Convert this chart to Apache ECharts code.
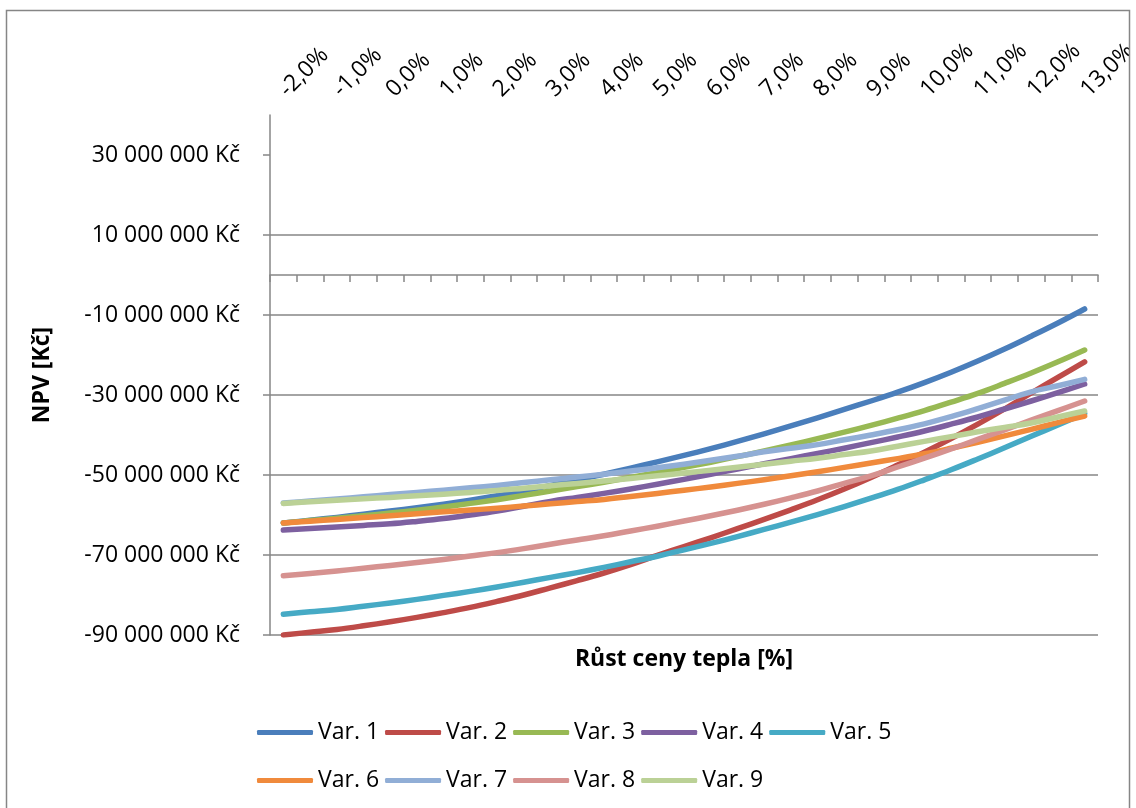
<!DOCTYPE html>
<html>
<head>
<meta charset="utf-8">
<script src="https://cdn.jsdelivr.net/npm/echarts@6/dist/echarts.min.js"></script>
<style>
  html, body { margin: 0; padding: 0; background: #fff; }
  #chart { width: 1136px; height: 808px; }
</style>
</head>
<body>
<div id="chart"></div>
<script>
// Heat price growth rate [%] in 0.5 % steps
const growthRates = [-2.0, -1.5, -1.0, -0.5, 0.0, 0.5, 1.0, 1.5, 2.0, 2.5, 3.0, 3.5, 4.0, 4.5, 5.0, 5.5,
  6.0, 6.5, 7.0, 7.5, 8.0, 8.5, 9.0, 9.5, 10.0, 10.5, 11.0, 11.5, 12.0, 12.5, 13.0];

// NPV tick values, millions of Kč
const npvTicks = [-90, -70, -50, -30, -10, 10, 30];

const seriesNames = ['Var. 1', 'Var. 2', 'Var. 3', 'Var. 4', 'Var. 5', 'Var. 6', 'Var. 7', 'Var. 8', 'Var. 9'];

// NPV per variant, millions of Kč
const npvVar1 = [-62.0, -61.3, -60.6, -59.8, -59.0, -58.2, -57.3, -56.3, -55.2, -54.0, -52.6, -51.2, -49.8, -48.3, -46.7, -45.1,
  -43.4, -41.6, -39.7, -37.7, -35.7, -33.6, -31.5, -29.3, -26.9, -24.3, -21.5, -18.5, -15.3, -12.0, -8.5];
const npvVar2 = [-90.0, -89.3, -88.6, -87.7, -86.7, -85.6, -84.4, -83.1, -81.6, -80.0, -78.2, -76.4, -74.5, -72.4, -70.1, -67.9,
  -65.7, -63.4, -61.1, -58.7, -56.2, -53.5, -50.6, -47.5, -44.3, -40.9, -37.3, -33.5, -29.5, -25.6, -21.7];
const npvVar3 = [-62.0, -61.4, -60.8, -60.2, -59.5, -58.8, -58.0, -57.1, -56.2, -55.1, -54.0, -52.9, -51.8, -50.6, -49.4, -48.1,
  -46.8, -45.4, -44.0, -42.5, -40.9, -39.3, -37.6, -35.8, -33.9, -31.8, -29.6, -27.1, -24.5, -21.7, -18.75];
const npvVar4 = [-63.75, -63.4, -63.0, -62.6, -62.2, -61.6, -60.9, -60.0, -59.0, -57.8, -56.6, -55.6, -54.6, -53.5, -52.3, -51.1,
  -49.8, -48.5, -47.2, -45.9, -44.6, -43.3, -41.9, -40.5, -39.0, -37.3, -35.5, -33.5, -31.5, -29.4, -27.25];
const npvVar5 = [-84.8, -84.2, -83.6, -82.8, -82.0, -81.1, -80.1, -79.1, -78.0, -76.8, -75.6, -74.4, -73.1, -71.7, -70.3, -68.7,
  -67.1, -65.4, -63.6, -61.8, -59.9, -57.9, -55.8, -53.6, -51.2, -48.7, -46.0, -43.2, -40.3, -37.5, -34.6];
const npvVar6 = [-62.0, -61.55, -61.1, -60.65, -60.2, -59.7, -59.2, -58.75, -58.3, -57.75, -57.2, -56.65, -56.1, -55.35, -54.6, -53.8,
  -53.0, -52.1, -51.2, -50.2, -49.2, -48.1, -47.0, -45.9, -44.7, -43.3, -41.8, -40.2, -38.6, -36.9, -35.25];
const npvVar7 = [-57.0, -56.5, -56.0, -55.45, -54.9, -54.35, -53.8, -53.2, -52.6, -51.9, -51.2, -50.5, -49.8, -49.0, -48.2, -47.3,
  -46.3, -45.3, -44.2, -43.3, -42.4, -41.2, -40.0, -38.7, -37.2, -35.4, -33.4, -31.3, -29.2, -27.7, -26.1];
const npvVar8 = [-75.2, -74.6, -74.0, -73.3, -72.6, -71.85, -71.1, -70.25, -69.4, -68.4, -67.3, -66.25, -65.2, -64.0, -62.8, -61.5,
  -60.2, -58.8, -57.3, -55.7, -54.0, -52.1, -50.2, -48.0, -45.8, -43.5, -41.1, -38.7, -36.3, -33.9, -31.5];
const npvVar9 = [-57.1, -56.7, -56.3, -55.95, -55.6, -55.2, -54.8, -54.35, -53.9, -53.3, -52.7, -52.1, -51.5, -50.85, -50.2, -49.5,
  -48.8, -48.05, -47.3, -46.55, -45.8, -44.9, -44.0, -42.8, -41.6, -40.4, -39.2, -38.1, -37.0, -35.5, -34.0];

const npvSeries = [npvVar1, npvVar2, npvVar3, npvVar4, npvVar5, npvVar6, npvVar7, npvVar8, npvVar9];

const palette = ['#4A7EBB', '#BE4B48', '#98B954', '#7D60A0', '#46AAC5', '#F08A3C', '#91AED6', '#D69290', '#BBD196'];
const FONT = "'Open Sans', sans-serif";
const AXIS_GRAY = '#868686';
const FONT_SIZE = 23;

// "-2,0%" style category labels (Czech decimal comma)
const rateLabels = growthRates.map(r => r.toFixed(1).replace('.', ',') + '%');

// "-90 000 000 Kč" style value labels
function formatKc(millions) {
  const n = Math.round(millions * 1e6);
  const digits = String(Math.abs(n)).replace(/\B(?=(\d{3})+(?!\d))/g, ' ');
  return (n < 0 ? '-' : '') + digits + ' Kč';
}

const chart = echarts.init(document.getElementById('chart'), null, { renderer: 'canvas' });

const legendBase = {
  orient: 'horizontal',
  left: 252,
  itemWidth: 56,
  itemHeight: 5,
  itemGap: 6,
  icon: 'roundRect',
  selectedMode: false,
  textStyle: { fontFamily: FONT, fontSize: FONT_SIZE, color: '#000' }
};

chart.setOption({
  animation: false,
  backgroundColor: '#fff',
  textStyle: { fontFamily: FONT },
  grid: { left: 270, top: 115, right: 38, bottom: 173, containLabel: false, outerBoundsMode: 'none' },
  legend: [
    Object.assign({}, legendBase, { data: seriesNames.slice(0, 5), top: 716 }),
    Object.assign({}, legendBase, { data: seriesNames.slice(5), top: 764 })
  ],
  xAxis: [
    {
      // rotated rate labels above the plot
      type: 'category', position: 'top', data: rateLabels, boundaryGap: true,
      axisLine: { show: false, onZero: false },
      axisTick: { show: false },
      splitLine: { show: false },
      axisLabel: { interval: 1, rotate: -45, margin: 22, hideOverlap: false, fontFamily: FONT, fontSize: FONT_SIZE, color: '#000' }
    },
    {
      // category axis line crossing at zero
      type: 'category', position: 'bottom', data: rateLabels, boundaryGap: true,
      axisLine: { show: true, onZero: true, lineStyle: { color: AXIS_GRAY, width: 1.5 } },
      axisTick: { show: true, interval: 0, length: 7, lineStyle: { color: AXIS_GRAY, width: 1.5 } },
      axisLabel: { show: false },
      splitLine: { show: false }
    },
    {
      // axis title under the plot
      type: 'category', position: 'bottom', data: rateLabels,
      axisLine: { show: false, onZero: false },
      axisTick: { show: false },
      axisLabel: { show: false },
      splitLine: { show: false },
      name: 'Růst ceny tepla [%]', nameLocation: 'middle', nameGap: 13,
      nameTextStyle: { fontFamily: FONT, fontSize: FONT_SIZE, fontWeight: 'bold', color: '#000' }
    }
  ],
  yAxis: {
    type: 'value', min: -90, max: 40,
    name: 'NPV [Kč]', nameLocation: 'middle', nameRotate: 90, nameGap: 216,
    nameTextStyle: { fontFamily: FONT, fontSize: FONT_SIZE, fontWeight: 'bold', color: '#000' },
    axisLine: { show: true, onZero: false, lineStyle: { color: AXIS_GRAY, width: 1.5 } },
    axisTick: { show: true, length: 7, customValues: npvTicks, lineStyle: { color: AXIS_GRAY, width: 1.5 } },
    axisLabel: {
      customValues: npvTicks, margin: 30, fontFamily: FONT, fontSize: FONT_SIZE, color: '#000',
      formatter: v => (npvTicks.indexOf(v) >= 0 ? formatKc(v) : '')
    },
    splitLine: { show: true, showMaxLine: false, lineStyle: { color: AXIS_GRAY, width: 1.5 } }
  },
  series: seriesNames.map((name, k) => ({
    name: name,
    type: 'line',
    xAxisIndex: 0,
    data: npvSeries[k],
    smooth: 0.4,
    symbol: 'none',
    showSymbol: false,
    lineStyle: { width: 5.5, color: palette[k], cap: 'round', join: 'round' },
    itemStyle: { color: palette[k] },
    emphasis: { disabled: true }
  })),
  graphic: [
    { type: 'rect', silent: true, z: 100, shape: { x: 1130, y: 0, width: 6, height: 808 }, style: { fill: '#fff' } },
    { type: 'rect', silent: true, z: 101, shape: { x: 6.5, y: 10.5, width: 1123, height: 806 },
      style: { fill: 'none', stroke: AXIS_GRAY, lineWidth: 1.5 } }
  ]
});
</script>
</body>
</html>
